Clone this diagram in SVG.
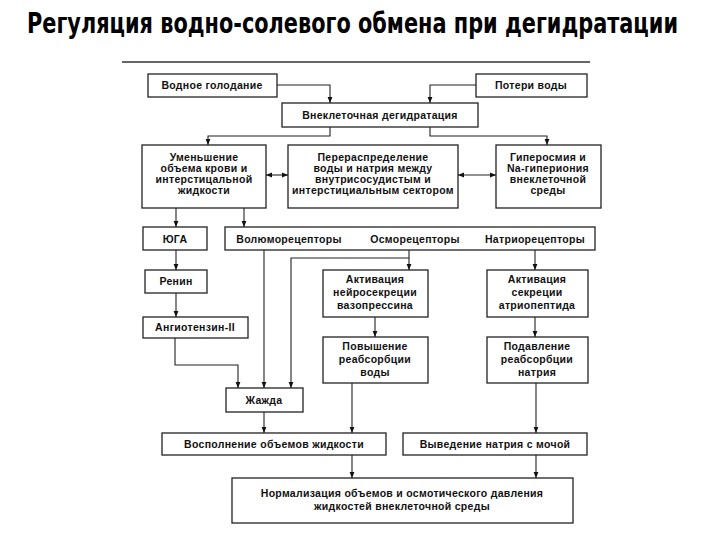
<svg xmlns="http://www.w3.org/2000/svg" width="720" height="540" viewBox="0 0 720 540">
<defs>
<marker id="ah" viewBox="0 0 10 10" refX="10" refY="5" markerWidth="6" markerHeight="6" orient="auto-start-reverse" markerUnits="userSpaceOnUse">
<path d="M0,1 L10,5 L0,9 Z" fill="#111"/>
</marker>
<style>
.box{fill:#fff;stroke:#222;stroke-width:1.3}
.t{font-family:"Liberation Sans",Arial,sans-serif;font-size:10.5px;font-weight:bold;fill:#111;text-anchor:middle;letter-spacing:0.3px}
.ln{fill:none;stroke:#222;stroke-width:1.1}
.ar{fill:none;stroke:#222;stroke-width:1.1;marker-end:url(#ah)}
.dar{fill:none;stroke:#222;stroke-width:1.1;marker-end:url(#ah);marker-start:url(#ah)}
.title{font-family:"DejaVu Sans Condensed","DejaVu Sans",sans-serif;font-weight:bold;font-size:24px;fill:#000}
</style>
</defs>
<rect width="720" height="540" fill="#fff"/>
<text class="title" transform="translate(27,33) scale(1,1.2)" x="0" y="0" textLength="651" lengthAdjust="spacingAndGlyphs">Регуляция водно-солевого обмена при дегидратации</text>
<line x1="122" y1="62" x2="590" y2="62" stroke="#333" stroke-width="1.3"/>

<g id="connectors">
<path class="ar" d="M277,85 H330 V103"/>
<path class="ar" d="M476,85 H430 V103"/>
<path class="ar" d="M330,127 V136 H208 V145"/>
<path class="ar" d="M430,127 V136 H547 V145"/>
<path class="dar" d="M266,175 H288"/>
<path class="dar" d="M458,175 H496"/>
<path class="ar" d="M176,208 V227"/>
<path class="ar" d="M244,208 V227"/>
<path class="ar" d="M176,250 V270"/>
<path class="ar" d="M176,293 V317"/>
<path class="ar" d="M175,338 V365 H238 V388"/>
<path class="ar" d="M264,250 V388"/>
<path class="ar" d="M409,250 V270"/>
<path class="ar" d="M409,258 H291 V388"/>
<path class="ar" d="M535,250 V270"/>
<path class="ar" d="M375,317 V337"/>
<path class="ar" d="M535,317 V337"/>
<path class="ar" d="M264,412 V433"/>
<path class="ar" d="M352,383 V433"/>
<path class="ar" d="M536,383 V433"/>
<path class="ar" d="M352,455 V478"/>
<path class="ar" d="M536,455 V478"/>
</g>

<g id="n-vodnoe"><rect class="box" x="148" y="74" width="129" height="23"/><text class="t" x="212" y="89">Водное голодание</text></g>
<g id="n-poteri"><rect class="box" x="476" y="74" width="111" height="23"/><text class="t" x="531" y="89">Потери воды</text></g>
<g id="n-vnekl"><rect class="box" x="282" y="103" width="196" height="24"/><text class="t" x="380" y="119">Внеклеточная дегидратация</text></g>
<g id="n-umen"><rect class="box" x="142" y="145" width="124" height="63"/>
<text class="t" x="204" y="161">Уменьшение</text><text class="t" x="204" y="172">объема крови и</text><text class="t" x="204" y="183">интерстицальной</text><text class="t" x="204" y="194">жидкости</text></g>
<g id="n-pereras"><rect class="box" x="288" y="145" width="170" height="63"/>
<text class="t" x="373" y="161">Перераспределение</text><text class="t" x="373" y="172">воды и натрия между</text><text class="t" x="373" y="183">внутрисосудистым и</text><text class="t" x="373" y="194">интерстициальным сектором</text></g>
<g id="n-giper"><rect class="box" x="496" y="145" width="105" height="63"/>
<text class="t" x="548" y="161">Гиперосмия и</text><text class="t" x="548" y="172">Na-гипериония</text><text class="t" x="548" y="183">внеклеточной</text><text class="t" x="548" y="194">среды</text></g>
<g id="n-yuga"><rect class="box" x="143" y="227" width="64" height="23"/><text class="t" x="175" y="243">ЮГА</text></g>
<g id="n-recept"><rect class="box" x="225" y="227" width="370" height="23"/>
<text class="t" x="289" y="243">Волюморецепторы</text><text class="t" x="415" y="243">Осморецепторы</text><text class="t" x="535" y="243">Натриорецепторы</text></g>
<g id="n-renin"><rect class="box" x="145" y="270" width="62" height="23"/><text class="t" x="176" y="285">Ренин</text></g>
<g id="n-angio"><rect class="box" x="143" y="317" width="105" height="21"/><text class="t" x="195" y="331">Ангиотензин-II</text></g>
<g id="n-akt-neiro"><rect class="box" x="323" y="270" width="105" height="47"/>
<text class="t" x="375" y="283">Активация</text><text class="t" x="375" y="296">нейросекреции</text><text class="t" x="375" y="309">вазопрессина</text></g>
<g id="n-akt-sekr"><rect class="box" x="487" y="270" width="101" height="47"/>
<text class="t" x="537" y="283">Активация</text><text class="t" x="537" y="296">секреции</text><text class="t" x="537" y="309">атриопептида</text></g>
<g id="n-povysh"><rect class="box" x="323" y="337" width="105" height="46"/>
<text class="t" x="375" y="350">Повышение</text><text class="t" x="375" y="363">реабсорбции</text><text class="t" x="375" y="376">воды</text></g>
<g id="n-podavl"><rect class="box" x="487" y="337" width="101" height="46"/>
<text class="t" x="537" y="350">Подавление</text><text class="t" x="537" y="363">реабсорбции</text><text class="t" x="537" y="376">натрия</text></g>
<g id="n-zhazhda"><rect class="box" x="226" y="388" width="77" height="24"/><text class="t" x="264" y="404">Жажда</text></g>
<g id="n-vospoln"><rect class="box" x="162" y="433" width="224" height="22"/><text class="t" x="274" y="448">Восполнение объемов жидкости</text></g>
<g id="n-vyved"><rect class="box" x="403" y="433" width="184" height="22"/><text class="t" x="495" y="448">Выведение натрия с мочой</text></g>
<g id="n-norm"><rect class="box" x="232" y="478" width="341" height="45"/>
<text class="t" x="402" y="497">Нормализация объемов и осмотического давления</text><text class="t" x="402" y="510">жидкостей внеклеточной среды</text></g>
</svg>
